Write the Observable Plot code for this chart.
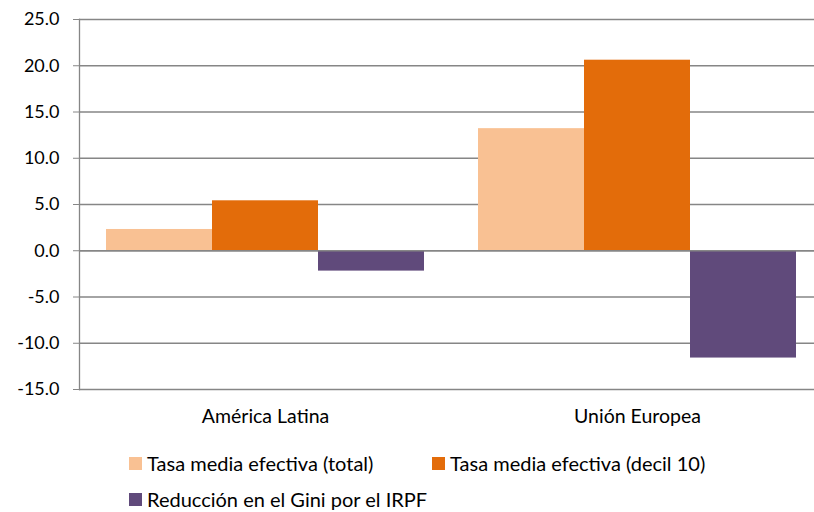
<!DOCTYPE html>
<html>
<head>
<meta charset="utf-8">
<script src="https://cdn.jsdelivr.net/npm/d3@7"></script>
<script src="https://cdn.jsdelivr.net/npm/@observablehq/plot@0.6"></script>
<style>
  html, body { margin: 0; padding: 0; background: #fff; overflow: hidden; }
  #wrap { position: relative; width: 814px; height: 512px; overflow: hidden; font-family: Lato, "Open Sans", sans-serif; }
  #chart { position: absolute; left: 0; top: 0; }
  .leg { position: absolute; display: flex; align-items: center; height: 22px; font-size: 20px; color: #000; white-space: nowrap; }
  .sw { width: 13px; height: 13px; margin-right: 5px; flex: none; }
</style>
</head>
<body>
<div id="wrap">
  <div id="chart"></div>
  <div id="legend"></div>
</div>
<script>
const regions = ["América Latina", "Unión Europea"];
const series = ["Tasa media efectiva (total)", "Tasa media efectiva (decil 10)", "Reducción en el Gini por el IRPF"];
const colors = ["#F9C193", "#E36C0A", "#604A7B"];
const valuesAL = [2.3, 5.4, -2.2];
const valuesUE = [13.2, 20.6, -11.6];
const yTicks = [-15, -10, -5, 0, 5, 10, 15, 20, 25];

const data = [];
series.forEach((s, i) => {
  data.push({region: regions[0], series: s, value: valuesAL[i]});
  data.push({region: regions[1], series: s, value: valuesUE[i]});
});

const chart = Plot.plot({
  width: 814,
  height: 440,
  marginLeft: 79,
  marginRight: -9,
  marginTop: 19,
  marginBottom: 51,
  style: {fontFamily: "Lato, 'Open Sans', sans-serif", fontSize: "17px", color: "#000", background: "#fff", overflow: "hidden"},
  fx: {domain: regions, padding: 0, label: null},
  x: {domain: series, paddingInner: 0, paddingOuter: 0.25, axis: null},
  y: {domain: [-15, 25], label: null},
  color: {domain: series, range: colors},
  marks: [
    Plot.ruleY(yTicks, {stroke: "#868686", strokeWidth: 1.3}),
    Plot.barY(data, {fx: "region", x: "series", y: "value", fill: "series"}),
    Plot.ruleY([0], {stroke: "#868686", strokeWidth: 1.3}),
    Plot.frame({anchor: "left", stroke: "#868686", strokeWidth: 1.3, facetAnchor: "left"}),
    Plot.axisY({ticks: yTicks, tickFormat: d => d.toFixed(1), tickSize: 6, tickPadding: 14, stroke: "#868686", fontSize: 18, label: null, facetAnchor: "left"}),
    Plot.axisFx({anchor: "bottom", tickSize: 0, tickPadding: 20, fontSize: 19.5, label: null})
  ]
});
document.getElementById("chart").appendChild(chart);

const legendPos = [[129, 452], [432, 452], [129, 488]];
const leg = document.getElementById("legend");
series.forEach((s, i) => {
  const d = document.createElement("div");
  d.className = "leg";
  d.style.left = legendPos[i][0] + "px";
  d.style.top = legendPos[i][1] + "px";
  d.innerHTML = `<span class="sw" style="background:${colors[i]}"></span><span>${s}</span>`;
  leg.appendChild(d);
});
</script>
</body>
</html>
